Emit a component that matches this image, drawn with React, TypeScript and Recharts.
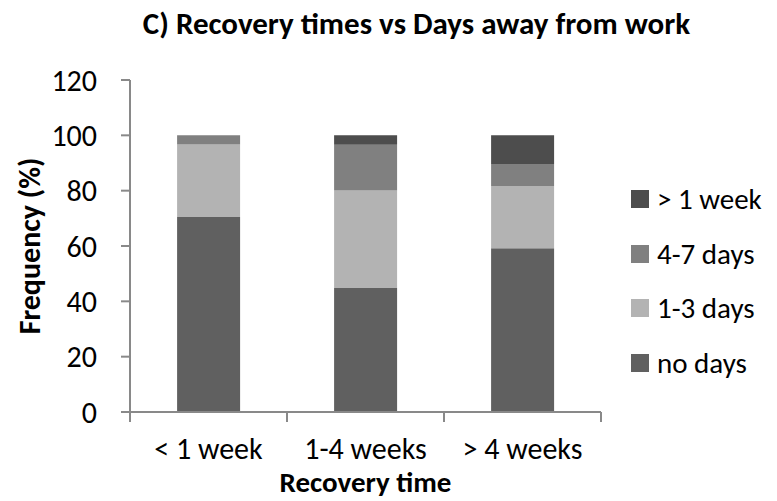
import React from 'react';
import { BarChart, Bar, XAxis, YAxis, Legend, Label } from 'recharts';

const categories = ['< 1 week', '1-4 weeks', '> 4 weeks'];
const noDays = [70.5, 44.8, 59.2];
const oneToThreeDays = [26.2, 35.3, 22.5];
const fourToSevenDays = [3.3, 16.5, 7.9];
const overOneWeek = [0, 3.4, 10.4];
const yTicks = [0, 20, 40, 60, 80, 100, 120];
const legendOrder = ['> 1 week', '4-7 days', '1-3 days', 'no days'];

const data = categories.map((c, i) => ({
  category: c,
  noDays: noDays[i],
  oneToThree: oneToThreeDays[i],
  fourToSeven: fourToSevenDays[i],
  overWeek: overOneWeek[i],
}));

const FONT = 'Carlito, Calibri, Lato, "Open Sans", sans-serif';
const AXIS = '#898989';
const X_TICK_MARGIN = 26;
const TICK_LEN = 10;
const PLOT_W = 471;

const CategoryTick = (props: any) => {
  const { x, y, payload, index, visibleTicksCount } = props;
  const count = visibleTicksCount || categories.length;
  const w = Number(props.width) || PLOT_W;
  const half = w / count / 2;
  const axisY = y - X_TICK_MARGIN;
  return (
    <g>
      <line x1={x - half} x2={x - half} y1={axisY} y2={axisY + TICK_LEN} stroke={AXIS} strokeWidth={2} />
      {index === count - 1 && (
        <line x1={x + half} x2={x + half} y1={axisY} y2={axisY + TICK_LEN} stroke={AXIS} strokeWidth={2} />
      )}
      <text x={x} y={y} dy="0.71em" textAnchor="middle" fill="#000" fontSize={30} fontFamily={FONT}>
        {payload.value}
      </text>
    </g>
  );
};

const renderLegend = (props: any) => {
  const items = [...(props.payload || [])].sort(
    (a: any, b: any) => legendOrder.indexOf(a.value) - legendOrder.indexOf(b.value)
  );
  return (
    <div style={{ fontFamily: FONT, fontSize: 29, color: '#000' }}>
      {items.map((it: any) => (
        <div key={it.value} style={{ display: 'flex', alignItems: 'center', height: 54.5, whiteSpace: 'nowrap' }}>
          <span style={{ display: 'inline-block', width: 18, height: 18, background: it.color, marginRight: 8, flex: 'none' }} />
          <span>{it.value}</span>
        </div>
      ))}
    </div>
  );
};

export default function App() {
  return (
    <div style={{ position: 'absolute', left: 0, top: 0, width: 777, height: 501, background: '#fff', overflow: 'hidden' }}>
      <div
        style={{
          position: 'absolute',
          left: 28,
          top: 8,
          width: 777,
          textAlign: 'center',
          fontFamily: FONT,
          fontWeight: 'bold',
          fontSize: 31,
          lineHeight: '31px',
          color: '#000',
          whiteSpace: 'nowrap',
        }}
      >
        C) Recovery times vs Days away from work
      </div>
      <BarChart
        width={777}
        height={501}
        data={data}
        margin={{ top: 80, right: 176, bottom: 0, left: 0 }}
        barCategoryGap="30%"
        style={{ fontFamily: FONT }}
      >
        <XAxis
          dataKey="category"
          height={89}
          tickLine={false}
          tickSize={0}
          tickMargin={X_TICK_MARGIN}
          axisLine={{ stroke: AXIS, strokeWidth: 2 }}
          tick={<CategoryTick />}
          interval={0}
        >
          <Label
            value="Recovery time"
            position="insideBottom"
            offset={9}
            style={{ fontWeight: 'bold', fontSize: 29, fill: '#000', fontFamily: FONT }}
          />
        </XAxis>
        <YAxis
          width={130}
          domain={[0, 120]}
          ticks={yTicks}
          interval={0}
          tickSize={9}
          tickMargin={24}
          axisLine={{ stroke: AXIS, strokeWidth: 2 }}
          tickLine={{ stroke: AXIS, strokeWidth: 2 }}
          tick={{ fill: '#000', fontSize: 30, fontFamily: FONT }}
        >
          <Label
            value="Frequency (%)"
            angle={-90}
            position="insideLeft"
            offset={29}
            style={{ textAnchor: 'middle', fontWeight: 'bold', fontSize: 30, fill: '#000', fontFamily: FONT }}
          />
        </YAxis>
        <Legend
          layout="vertical"
          align="center"
          verticalAlign="middle"
          content={renderLegend}
          wrapperStyle={{ left: 631, top: 172, width: 146 }}
        />
        <Bar dataKey="noDays" name="no days" stackId="a" fill="#606060" isAnimationActive={false} />
        <Bar dataKey="oneToThree" name="1-3 days" stackId="a" fill="#b3b3b3" isAnimationActive={false} />
        <Bar dataKey="fourToSeven" name="4-7 days" stackId="a" fill="#808080" isAnimationActive={false} />
        <Bar dataKey="overWeek" name="> 1 week" stackId="a" fill="#4d4d4d" isAnimationActive={false} />
      </BarChart>
    </div>
  );
}
